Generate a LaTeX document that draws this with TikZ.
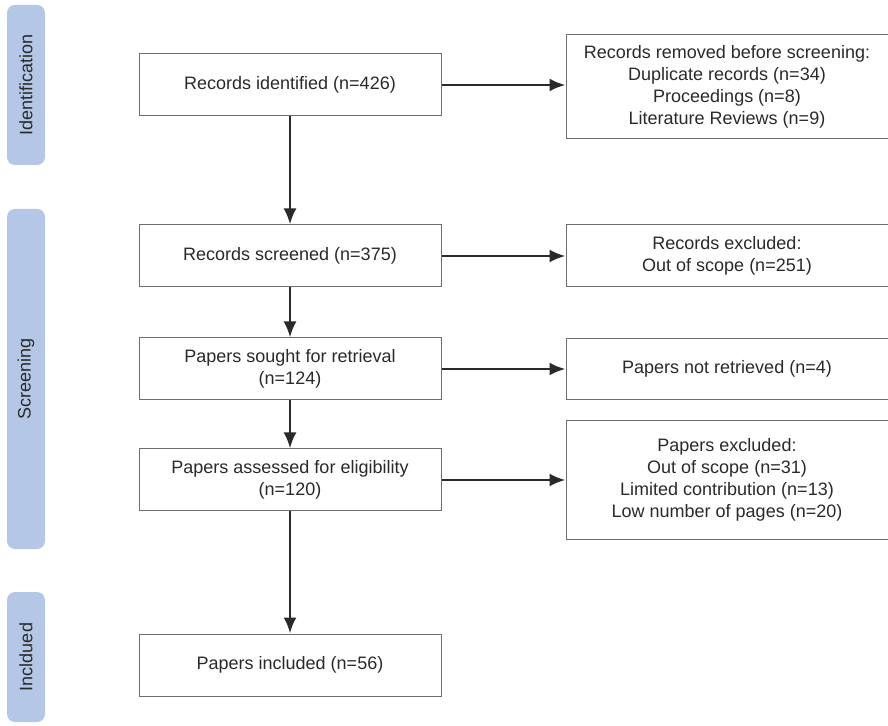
\documentclass[tikz,border=0pt]{standalone}
\usepackage{fontspec}
\setmainfont{Liberation Sans}
\usepackage{tikz}
\usetikzlibrary{shapes,arrows.meta,positioning}
\definecolor{phaseblue}{HTML}{B4C7E7}
\definecolor{boxgray}{HTML}{6E6E6E}
\definecolor{inkgray}{HTML}{2A2A2A}
\tikzset{phase/.style={rectangle, fill=phaseblue, rounded corners=4pt, rotate=90,
 minimum height=19pt, text=inkgray, inner sep=0pt}}
\tikzset{stage/.style={rectangle, draw=boxgray, line width=0.5pt, fill=white, text=inkgray,
 align=center, minimum width=151pt, minimum height=31pt, inner sep=2pt}}
\tikzset{outcome/.style={rectangle, draw=boxgray, line width=0.5pt, fill=white, text=inkgray,
 align=center, minimum width=161pt, inner sep=2pt}}
\tikzset{line/.style={draw=inkgray, line width=1.3pt, -{Latex[length=8pt, width=6.5pt]}}}

\begin{document}
\begin{tikzpicture}[x=0.5pt, y=-0.5pt, font=\fontsize{9pt}{11pt}\selectfont]
        \useasboundingbox (0,0) rectangle (888,726);

        % phases
        \node[phase, minimum width=80pt]  (idph) at (26,85)  {Identification};
        \node[phase, minimum width=170pt] (scph) at (26,379) {Screening};
        \node[phase, minimum width=65pt]  (inph) at (26,657) {Incldued};

        % main flow
        \node[stage] (ident) at (290,85) {Records identified (n=426)};
        \node[stage, below=54pt of ident] (scrn) {Records screened (n=375)};
        \node[stage, below=25pt of scrn]  (sght) {Papers sought for retrieval\\(n=124)};
        \node[stage, below=24pt of sght]  (asmt) {Papers assessed for eligibility\\(n=120)};
        \node[stage, below=61pt of asmt]  (incl) {Papers included (n=56)};

        % removed / excluded
        \node[outcome, minimum height=52pt, right=62pt of ident, yshift=-1pt] (rmvd)
          {Records removed before screening:\\Duplicate records (n=34)\\Proceedings (n=8)\\Literature Reviews (n=9)};
        \node[outcome, minimum height=31pt, right=62pt of scrn] (rexc)
          {Records excluded:\\Out of scope (n=251)};
        \node[outcome, minimum height=30.5pt, right=62pt of sght] (nret)
          {Papers not retrieved (n=4)};
        \node[outcome, minimum height=59.5pt, right=62pt of asmt] (pexc)
          {Papers excluded:\\Out of scope (n=31)\\Limited contribution (n=13)\\Low number of pages (n=20)};

        \path[line] (ident) -- (scrn);
        \path[line] (scrn)  -- (sght);
        \path[line] (sght)  -- (asmt);
        \path[line] (asmt)  -- (incl);

        \path[line] (ident) -- (ident -| rmvd.west);
        \path[line] (scrn)  -- (rexc);
        \path[line] (sght)  -- (nret);
        \path[line] (asmt)  -- (pexc);
      \end{tikzpicture}
\end{document}
